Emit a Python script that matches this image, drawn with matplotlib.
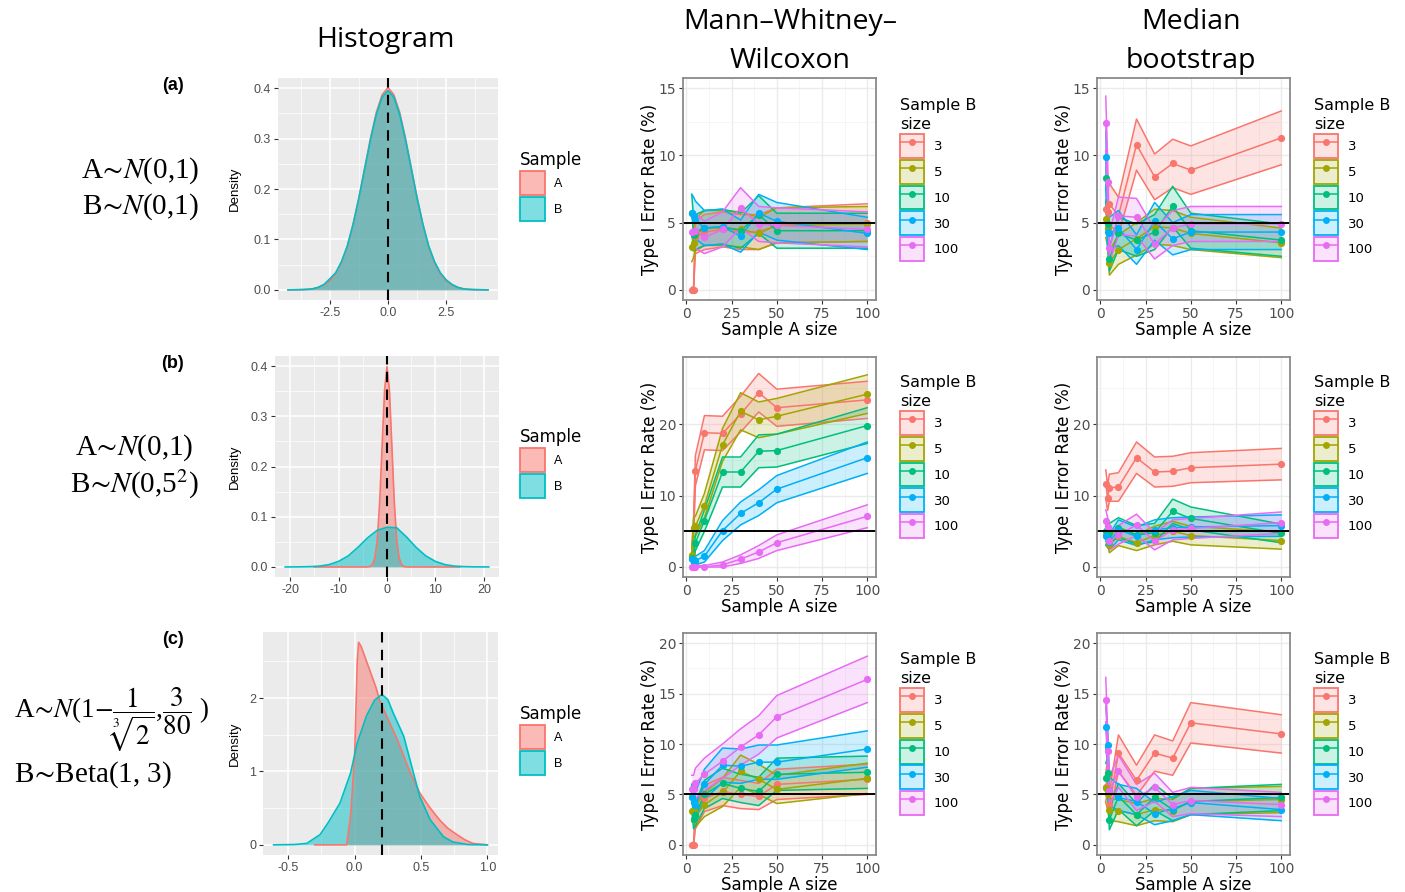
import matplotlib
matplotlib.use('Agg')
import matplotlib.pyplot as plt
import numpy as np
from matplotlib.patches import Patch
from matplotlib.lines import Line2D
from matplotlib.colors import to_rgba

plt.rcParams['mathtext.fontset'] = 'stix'
plt.rcParams['axes.unicode_minus'] = False

W, H = 1405, 892

# --- data ---
sizes_a = [3, 4, 5, 10, 20, 30, 40, 50, 100]
sizes_b = ['3', '5', '10', '30', '100']
hue5 = ['#F8766D', '#A3A500', '#00BF7D', '#00B0F6', '#E76BF3']
hue2 = ['#F8766D', '#00BFC4']

# row (a): mean type I error rate (%) and half width of the band, one list per sample B size
mww_a = [[0, 0, 3.9, 4.3, 4.5, 4.3, 4.3, 4.8, 5.0],
         [3.2, 3.5, 4.1, 4.6, 4.6, 4.5, 4.2, 4.8, 4.9],
         [5.7, 4.1, 4.3, 4.6, 4.7, 4.4, 5.6, 4.4, 4.4],
         [5.7, 5.5, 5.2, 4.6, 4.7, 4.0, 5.7, 5.1, 4.2],
         [4.3, 4.4, 4.4, 3.9, 4.5, 6.1, 4.9, 4.8, 4.5]]
mww_a_hw = [[0.2, 0.2, 1.2, 1.3, 1.3, 1.3, 1.3, 1.3, 1.4],
            [1.1, 1.1, 1.2, 1.3, 1.3, 1.3, 1.2, 1.3, 1.3],
            [1.4, 1.2, 1.3, 1.3, 1.3, 1.3, 1.4, 1.3, 1.3],
            [1.4, 1.4, 1.4, 1.3, 1.3, 1.2, 1.4, 1.4, 1.2],
            [1.3, 1.3, 1.3, 1.2, 1.3, 1.5, 1.3, 1.3, 1.3]]
boot_a = [[6.0, 5.8, 6.4, 5.5, 10.8, 8.4, 9.4, 8.9, 11.3],
          [5.3, 4.6, 2.0, 3.0, 3.8, 4.7, 4.6, 4.2, 3.5],
          [8.3, 4.9, 2.3, 4.2, 3.7, 4.3, 6.2, 4.4, 3.7],
          [9.9, 4.3, 4.2, 4.6, 3.0, 5.1, 3.8, 4.3, 4.3],
          [12.4, 8.0, 3.1, 5.5, 5.4, 3.4, 4.6, 4.9, 4.9]]
boot_a_hw = [[1.5, 1.4, 1.5, 1.4, 1.9, 1.7, 1.8, 1.8, 2.0],
             [1.4, 1.3, 0.9, 1.1, 1.2, 1.3, 1.3, 1.2, 1.1],
             [1.7, 1.3, 0.9, 1.2, 1.2, 1.3, 1.5, 1.3, 1.2],
             [1.9, 1.3, 1.2, 1.3, 1.1, 1.4, 1.2, 1.3, 1.3],
             [2.0, 1.7, 1.1, 1.4, 1.4, 1.1, 1.3, 1.3, 1.3]]

# row (b)
mww_b = [[1.5, 5.5, 13.5, 18.8, 18.7, 21.4, 24.4, 22.3, 23.4],
         [1.7, 5.5, 5.7, 8.6, 17.1, 21.8, 20.6, 21.1, 24.2],
         [1.2, 1.0, 3.4, 6.5, 13.3, 13.3, 16.2, 16.3, 19.8],
         [1.1, 1.0, 0.9, 1.5, 5.1, 7.5, 9.0, 10.9, 15.3],
         [0, 0, 0, 0, 0.3, 1.1, 2.1, 3.4, 7.1]]
mww_b_hw = [[0.8, 1.4, 2.1, 2.4, 2.4, 2.5, 2.7, 2.6, 2.6],
            [0.8, 1.4, 1.4, 1.7, 2.3, 2.6, 2.5, 2.5, 2.7],
            [0.7, 0.6, 1.1, 1.5, 2.1, 2.1, 2.3, 2.3, 2.5],
            [0.7, 0.6, 0.6, 0.8, 1.4, 1.6, 1.8, 1.9, 2.2],
            [0.2, 0.2, 0.2, 0.2, 0.4, 0.6, 0.9, 1.1, 1.6]]
boot_b = [[11.6, 9.7, 11.1, 11.2, 15.3, 13.3, 13.4, 13.9, 14.4],
          [4.5, 4.4, 3.1, 4.3, 3.4, 4.4, 5.0, 4.4, 3.7],
          [5.0, 5.0, 4.8, 5.5, 4.5, 4.8, 7.8, 6.8, 4.7],
          [4.3, 4.0, 3.5, 5.2, 4.3, 5.2, 5.5, 5.6, 5.8],
          [6.5, 5.6, 3.6, 4.5, 5.9, 3.6, 5.2, 5.4, 6.2]]
boot_b_hw = [[2.0, 1.8, 1.9, 2.0, 2.2, 2.1, 2.1, 2.1, 2.2],
             [1.3, 1.3, 1.1, 1.3, 1.1, 1.3, 1.4, 1.3, 1.2],
             [1.4, 1.4, 1.3, 1.4, 1.3, 1.3, 1.7, 1.6, 1.3],
             [1.3, 1.2, 1.1, 1.4, 1.3, 1.4, 1.4, 1.4, 1.5],
             [1.5, 1.4, 1.2, 1.3, 1.5, 1.2, 1.4, 1.4, 1.5]]

# row (c)
mww_c = [[0, 0, 2.6, 4.6, 5.3, 5.0, 4.8, 6.0, 6.5],
         [3.4, 3.4, 2.8, 4.0, 5.2, 7.3, 6.5, 5.5, 6.6],
         [4.7, 2.6, 3.0, 5.0, 6.1, 5.6, 5.3, 7.0, 7.2],
         [4.7, 4.3, 4.0, 6.0, 7.9, 7.8, 8.2, 8.2, 9.5],
         [5.5, 5.5, 6.1, 7.0, 8.3, 9.7, 10.9, 12.7, 16.4]]
mww_c_hw = [[0.2, 0.2, 1.0, 1.3, 1.4, 1.4, 1.3, 1.5, 1.5],
            [1.1, 1.1, 1.0, 1.2, 1.4, 1.6, 1.5, 1.4, 1.5],
            [1.3, 1.0, 1.1, 1.4, 1.5, 1.4, 1.4, 1.6, 1.6],
            [1.3, 1.3, 1.2, 1.5, 1.7, 1.7, 1.7, 1.7, 1.8],
            [1.4, 1.4, 1.5, 1.6, 1.7, 1.8, 1.9, 2.1, 2.3]]
boot_c = [[5.7, 6.9, 4.0, 9.1, 6.4, 9.1, 8.6, 12.1, 11.0],
          [5.6, 5.0, 3.5, 3.4, 3.0, 3.5, 3.4, 4.3, 4.5],
          [6.6, 7.1, 2.5, 4.8, 3.0, 4.7, 3.5, 4.3, 4.7],
          [11.7, 9.9, 5.3, 4.7, 4.3, 3.1, 3.6, 4.2, 3.5],
          [14.4, 9.3, 5.3, 7.3, 4.7, 5.7, 4.0, 4.4, 4.0]]
boot_c_hw = [[1.4, 1.6, 1.2, 1.8, 1.5, 1.8, 1.7, 2.0, 1.9],
             [1.4, 1.4, 1.1, 1.1, 1.1, 1.1, 1.1, 1.3, 1.3],
             [1.5, 1.6, 1.0, 1.3, 1.1, 1.3, 1.1, 1.3, 1.3],
             [2.0, 1.9, 1.4, 1.3, 1.3, 1.1, 1.2, 1.2, 1.1],
             [2.2, 1.8, 1.4, 1.6, 1.3, 1.4, 1.2, 1.3, 1.2]]

# density curves
dens_a_x = [-4.3, -3.75, -3.5, -3.25, -3.0, -2.75, -2.5, -2.25, -2.0, -1.75, -1.5, -1.25,
            -1.0, -0.75, -0.5, -0.25, 0.0, 0.25, 0.5, 0.75, 1.0, 1.25, 1.5, 1.75, 2.0,
            2.25, 2.5, 2.75, 3.0, 3.25, 3.5, 3.75, 4.3]
dens_a_A = [0.0, 0.0005, 0.001, 0.002, 0.005, 0.01, 0.018, 0.032, 0.054, 0.086, 0.13, 0.183,
            0.242, 0.301, 0.352, 0.387, 0.401, 0.387, 0.352, 0.301, 0.242, 0.183, 0.13, 0.086,
            0.054, 0.032, 0.018, 0.01, 0.005, 0.002, 0.001, 0.0005, 0.0]
dens_a_B = [0.0, 0.0005, 0.001, 0.002, 0.005, 0.011, 0.022, 0.034, 0.056, 0.087, 0.13, 0.182,
            0.24, 0.298, 0.348, 0.382, 0.395, 0.382, 0.348, 0.298, 0.24, 0.182, 0.13, 0.087,
            0.056, 0.034, 0.02, 0.011, 0.005, 0.002, 0.001, 0.0005, 0.0]
dens_b_Ax = [-15, -4.5, -4, -3.5, -3, -2.5, -2, -1.5, -1, -0.5, 0, 0.5, 1, 1.5, 2, 2.5, 3,
             3.5, 4, 4.5, 15]
dens_b_A = [0, 0, 0.0001, 0.0009, 0.0044, 0.018, 0.054, 0.13, 0.242, 0.352, 0.399, 0.352,
            0.242, 0.13, 0.054, 0.018, 0.0044, 0.0009, 0.0001, 0, 0]
dens_b_Bx = [-21, -18, -16, -14, -12, -10, -8, -6, -4, -2, 0, 2, 4, 6, 8, 10, 12, 14, 16, 18, 21]
dens_b_B = [0, 0.0002, 0.0006, 0.0016, 0.0045, 0.011, 0.022, 0.039, 0.058, 0.073, 0.079, 0.078,
            0.06, 0.039, 0.022, 0.011, 0.0045, 0.0016, 0.0006, 0.0002, 0]
dens_c_Ax = [-0.3, -0.06, -0.03, 0.0, 0.02, 0.03, 0.05, 0.08, 0.12, 0.16, 0.19, 0.25, 0.32,
             0.42, 0.49, 0.57, 0.64, 0.7, 0.77, 0.83, 0.89, 1.0]
dens_c_A = [0, 0, 0.4, 1.2, 2.5, 2.76, 2.7, 2.55, 2.35, 2.15, 1.96, 1.72, 1.44, 0.98, 0.71,
            0.5, 0.34, 0.23, 0.14, 0.07, 0.02, 0]
dens_c_Bx = [-0.61, -0.45, -0.36, -0.26, -0.2, -0.11, -0.03, 0.02, 0.09, 0.15, 0.205, 0.25,
             0.29, 0.37, 0.43, 0.49, 0.57, 0.67, 0.74, 0.85, 1.0]
dens_c_B = [0, 0.005, 0.02, 0.14, 0.3, 0.57, 0.98, 1.39, 1.76, 1.97, 2.05, 1.98, 1.8, 1.48,
            1.07, 0.66, 0.34, 0.11, 0.04, 0.005, 0]
medians = [0.0, 0.0, 0.206]

fig = plt.figure(figsize=(W / 100, H / 100), dpi=100)


def px_axes(x0, y0, x1, y1):
    return fig.add_axes([x0 / W, 1 - y1 / H, (x1 - x0) / W, (y1 - y0) / H])


def hist_panel(box, curves, med, xlim, ylim, xt, xtl, yt, ytl, xminor, yminor):
    ax = px_axes(*box)
    ax.set_facecolor('#EBEBEB')
    for (xs, ys), col in zip(curves, hue2):
        ax.fill_between(xs, 0, ys, color=col, alpha=0.5, lw=0)
        ax.plot(xs, ys, color=col, lw=1.2)
    ax.axvline(med, color='black', lw=1.5, ls=(0, (5, 3.5)))
    ax.set_xlim(xlim)
    ax.set_ylim(ylim)
    ax.set_xticks(xt, xtl)
    ax.set_yticks(yt, ytl)
    ax.set_xticks(xminor, minor=True)
    ax.set_yticks(yminor, minor=True)
    ax.grid(which='major', color='white', lw=1.1)
    ax.grid(which='minor', color='white', lw=0.5)
    ax.set_axisbelow(True)
    for s in ax.spines.values():
        s.set_visible(False)
    ax.tick_params(which='major', length=3, color='#333333', labelcolor='#4D4D4D',
                   labelsize=9, pad=2)
    ax.tick_params(which='minor', length=0)
    for lab in ax.get_xticklabels() + ax.get_yticklabels():
        lab.set_family('Liberation Sans')
    ax.set_ylabel('Density', family='Liberation Sans', fontsize=9.5, va='center')
    ax.yaxis.set_label_coords((235 - box[0]) / (box[2] - box[0]), 0.5)
    return ax


def type1_panel(x0, x1, rowy, means, hws, ylim, yt, yminor):
    ax = px_axes(x0, rowy[0], x1, rowy[1])
    ax.set_facecolor('white')
    los, his = [], []
    for k, col in enumerate(hue5):
        m = np.array(means[k])
        h = np.array(hws[k])
        lo = np.clip(m - h, 0, None)
        hi = m + h
        los.append(lo)
        his.append(hi)
        ax.fill_between(sizes_a, lo, hi, color=col, alpha=0.2, lw=0)
    for k, col in enumerate(hue5):
        ax.plot(sizes_a, los[k], color=col, lw=1.1)
        ax.plot(sizes_a, his[k], color=col, lw=1.1)
        ax.plot(sizes_a, means[k], color=col, lw=1.1)
    for k, col in enumerate(hue5):
        ax.plot(sizes_a, means[k], 'o', color=col, ms=5.2, mew=0)
    ax.axhline(5, color='black', lw=1.4)
    ax.set_xlim(-1.85, 104.85)
    ax.set_ylim(ylim)
    ax.set_xticks([0, 25, 50, 75, 100])
    ax.set_xticks([12.5, 37.5, 62.5, 87.5], minor=True)
    ax.set_yticks(yt)
    ax.set_yticks(yminor, minor=True)
    ax.grid(which='major', color='#EBEBEB', lw=1.0)
    ax.grid(which='minor', color='#F4F4F4', lw=0.6)
    ax.set_axisbelow(True)
    for s in ax.spines.values():
        s.set_color('#8A8A8A')
        s.set_linewidth(1.3)
    ax.tick_params(which='major', length=3, color='#333333', labelcolor='#4D4D4D',
                   labelsize=10, pad=2)
    ax.tick_params(which='minor', length=0)
    ax.set_ylabel('Type I Error Rate (%)', fontsize=12, va='center')
    ax.yaxis.set_label_coords(-0.17, 0.5)
    ax.set_xlabel('Sample A size', fontsize=12, va='center')
    ax.xaxis.set_label_coords(0.5, -30 / (rowy[1] - rowy[0]))
    return ax


def type1_legend(x, y):
    handles = [(Patch(facecolor=to_rgba(c, 0.2), edgecolor=c, lw=1.3),
                Line2D([], [], color=c, lw=1.1, marker='o', ms=5, mew=0)) for c in hue5]
    leg = fig.legend(handles, sizes_b, loc='upper left', bbox_to_anchor=(x / W, 1 - y / H),
                     title='Sample B\nsize', alignment='left', frameon=False, fontsize=9.5,
                     title_fontsize=11.5, handlelength=1.85, handleheight=2.42,
                     labelspacing=0.15, handletextpad=0.7, borderpad=0, borderaxespad=0)
    leg.get_title().set_linespacing(1.3)


def hist_legend(x, y):
    handles = [Patch(facecolor=to_rgba(c, 0.5), edgecolor=c, lw=1.3) for c in hue2]
    leg = fig.legend(handles, ['A', 'B'], loc='upper left', bbox_to_anchor=(x / W, 1 - y / H),
                     title='Sample', alignment='left', frameon=False, fontsize=9,
                     title_fontsize=12, handlelength=2.0, handleheight=2.58, labelspacing=0.16,
                     handletextpad=0.7, borderpad=0, borderaxespad=0)
    for t in leg.get_texts():
        t.set_family('Liberation Sans')


rows_y = [(78, 300), (357, 577), (633, 855)]
row_off = [0, 277, 554]

# histograms
hist_panel((278, 78, 498, 300), [(dens_a_x, dens_a_A), (dens_a_x, dens_a_B)], medians[0],
           (-4.73, 4.73), (-0.02, 0.42), [-2.5, 0, 2.5], ['-2.5', '0.0', '2.5'],
           [0, 0.1, 0.2, 0.3, 0.4], ['0.0', '0.1', '0.2', '0.3', '0.4'],
           [-3.75, -1.25, 1.25, 3.75], [0.05, 0.15, 0.25, 0.35])
hist_panel((275, 356, 499, 577), [(dens_b_Ax, dens_b_A), (dens_b_Bx, dens_b_B)], medians[1],
           (-23.1, 23.1), (-0.02, 0.42), [-20, -10, 0, 10, 20], ['-20', '-10', '0', '10', '20'],
           [0, 0.1, 0.2, 0.3, 0.4], ['0.0', '0.1', '0.2', '0.3', '0.4'],
           [-15, -5, 5, 15], [0.05, 0.15, 0.25, 0.35])
hist_panel((263, 632, 498, 855), [(dens_c_Ax, dens_c_A), (dens_c_Bx, dens_c_B)], medians[2],
           (-0.69, 1.08), (-0.138, 2.9), [-0.5, 0, 0.5, 1.0], ['-0.5', '0.0', '0.5', '1.0'],
           [0, 1, 2], ['0', '1', '2'], [-0.25, 0.25, 0.75], [0.5, 1.5, 2.5])

# type I error panels
ylims = [(-0.75, 15.75), (-1.4, 29.4), (-1.0, 21.0)]
yticks = [[0, 5, 10, 15], [0, 10, 20], [0, 5, 10, 15, 20]]
yminors = [[2.5, 7.5, 12.5], [5, 15, 25], [2.5, 7.5, 12.5, 17.5]]
mww_all = [(mww_a, mww_a_hw), (mww_b, mww_b_hw), (mww_c, mww_c_hw)]
boot_all = [(boot_a, boot_a_hw), (boot_b, boot_b_hw), (boot_c, boot_c_hw)]
for i in range(3):
    type1_panel(683, 876, rows_y[i], mww_all[i][0], mww_all[i][1], ylims[i], yticks[i], yminors[i])
    type1_panel(1097, 1290, rows_y[i], boot_all[i][0], boot_all[i][1], ylims[i], yticks[i], yminors[i])
    type1_legend(900, 98 + row_off[i])
    type1_legend(1314, 98 + row_off[i])
    hist_legend(520, 151 + row_off[i])
    fig.text(173 / W, 1 - (87 + row_off[i] - 1) / H, '(%s)' % 'abc'[i], ha='center', va='center',
             fontsize=13, weight='bold', family='Liberation Sans')

# column titles
tfont = dict(family='Open Sans', fontsize=20.5, ha='center', va='center')
fig.text(385 / W, 1 - 40 / H, 'Histogram', **tfont)
fig.text(790 / W, 1 - 22 / H, 'Mann\u2013Whitney\u2013', **tfont)
fig.text(790 / W, 1 - 61 / H, 'Wilcoxon', **tfont)
fig.text(1191 / W, 1 - 22 / H, 'Median', **tfont)
fig.text(1191 / W, 1 - 61 / H, 'bootstrap', **tfont)

# distribution labels
mfont = dict(family='Liberation Serif', va='center')
fig.text(140 / W, 1 - 171 / H, r'A$\!\sim\!N$(0,1)', ha='center', fontsize=21, **mfont)
fig.text(140 / W, 1 - 207 / H, r'B$\!\sim\!N$(0,1)', ha='center', fontsize=21, **mfont)
fig.text(134 / W, 1 - 448 / H, r'A$\!\sim\!N$(0,1)', ha='center', fontsize=21, **mfont)
fig.text(134 / W, 1 - 484 / H, r'B$\!\sim\!N$(0,5$^{2}$)', ha='center', fontsize=21, **mfont)
fig.text(14 / W, 1 - 720 / H,
         r'A$\!\sim\!N$(1$-\dfrac{1}{\sqrt[3]{2}}$,$\dfrac{3}{80}$ )', ha='left',
         fontsize=19.5, **mfont)
fig.text(14 / W, 1 - 775 / H, r'B$\!\sim\!$Beta(1, 3)', ha='left', fontsize=21, **mfont)

fig.savefig('out.png', dpi=100)
